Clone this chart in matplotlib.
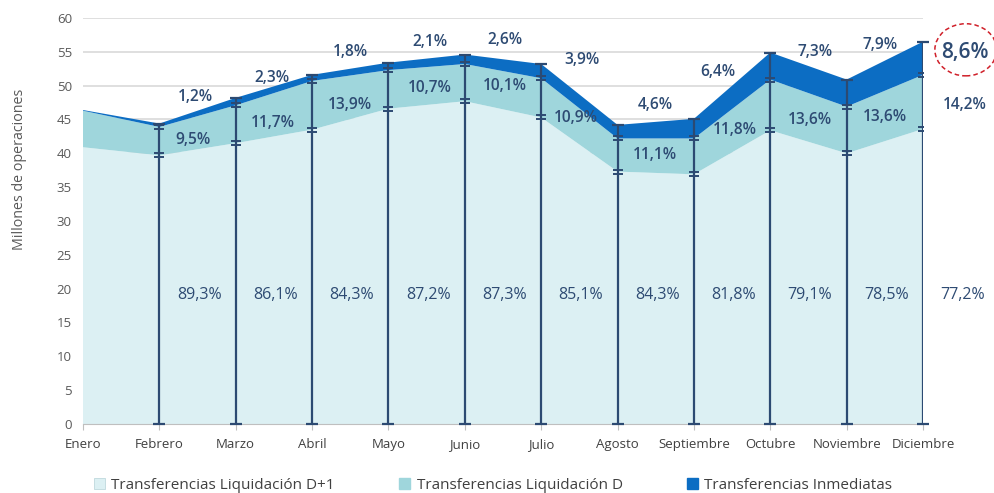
import matplotlib.pyplot as plt
from matplotlib.patches import Patch, Ellipse
from matplotlib.path import Path

# months and values (millions of operations)
months = ["Enero", "Febrero", "Marzo", "Abril", "Mayo", "Junio", "Julio",
          "Agosto", "Septiembre", "Octubre", "Noviembre", "Diciembre"]
liq_d1 = [40.9, 39.7, 41.5, 43.5, 46.6, 47.7, 45.3, 37.3, 36.9, 43.4, 40.0, 43.6]
liq_d = [5.4, 4.2, 5.6, 7.2, 5.7, 5.5, 5.8, 4.9, 5.3, 7.5, 6.9, 8.0]
inmed = [0.1, 0.5, 1.1, 0.9, 1.1, 1.4, 2.1, 2.0, 2.9, 4.0, 4.0, 4.9]

# share labels (Febrero .. Diciembre)
pct_d1 = ["89,3%", "86,1%", "84,3%", "87,2%", "87,3%", "85,1%", "84,3%", "81,8%", "79,1%", "78,5%", "77,2%"]
pct_d = ["9,5%", "11,7%", "13,9%", "10,7%", "10,1%", "10,9%", "11,1%", "11,8%", "13,6%", "13,6%", "14,2%"]
pct_inm = ["1,2%", "2,3%", "1,8%", "2,1%", "2,6%", "3,9%", "4,6%", "6,4%", "7,3%", "7,9%", "8,6%"]

# label placement (layout only)
inm_lbl_x = [1.47, 2.48, 3.5, 4.54, 5.53, 6.53, 7.49, 8.31, 9.59, 10.44, 11.55]
inm_lbl_y = [48.3, 51.1, 55.0, 56.4, 56.7, 53.8, 47.1, 52.0, 55.0, 56.0, 54.9]
d_lbl_x = [1.44, 2.48, 3.5, 4.54, 5.53, 6.46, 7.49, 8.54, 9.52, 10.5, 11.55]
d_lbl_y = [42.0, 44.5, 47.1, 49.6, 50.0, 45.2, 39.7, 43.4, 44.9, 45.3, 47.1]

c_d1 = "#DCF0F3"
c_d = "#9FD6DC"
c_inm = "#0C6DC3"
c_line = "#2C4A72"
c_txt = "#2E4B73"

plt.rcParams['font.family'] = ['Open Sans', 'DejaVu Sans']

fig = plt.figure(figsize=(9.94, 4.93), dpi=100)
ax = fig.add_axes([0.0835, 0.14, 0.8451, 0.8235])

x = list(range(len(months)))
ax.stackplot(x, liq_d1, liq_d, inmed, colors=[c_d1, c_d, c_inm], lw=0, zorder=2)

# vertical bars with caps
dbl = Path([(-1, 0.35), (1, 0.35), (-1, -0.35), (1, -0.35)],
           [Path.MOVETO, Path.LINETO, Path.MOVETO, Path.LINETO])
for i in range(1, len(months)):
    b1 = liq_d1[i]
    b2 = liq_d1[i] + liq_d[i]
    top = b2 + inmed[i]
    ax.vlines(i, 0, top, color=c_line, lw=1.6, zorder=3)
    ax.plot([i, i], [0, top], ls="none", marker="_", ms=8, mew=1.6, color=c_line, zorder=4, clip_on=False)
    ax.plot([i, i], [b1, b2], ls="none", marker=dbl, ms=7.5, mew=1.4, color=c_line, zorder=4)

# labels
for k in range(len(pct_d1)):
    ax.text(k + 1.52, 19.0, pct_d1[k], ha="center", va="center", fontsize=11.5, color=c_txt, zorder=5)
    ax.text(d_lbl_x[k], d_lbl_y[k], pct_d[k], ha="center", va="center", fontsize=11.2,
            fontweight="semibold", color=c_txt, zorder=5)
    big = k == len(pct_inm) - 1
    ax.text(inm_lbl_x[k], inm_lbl_y[k], pct_inm[k], ha="center", va="center",
            fontsize=15 if big else 11.2, fontweight="semibold", color=c_txt, zorder=5, clip_on=False)

ax.add_patch(Ellipse((11.56, 55.3), 0.81, 7.7, fill=False, ec="#D0202A", ls=(0, (3, 2)),
                     lw=1.1, clip_on=False, zorder=6))

ax.set_xlim(0, 11)
ax.set_ylim(0, 60)
ax.set_yticks(range(0, 61, 5))
ax.set_xticks(x)
ax.set_xticklabels(months, fontsize=9.5, color="#404040")
ax.tick_params(axis="y", length=0, labelsize=9.5, labelcolor="#595959", pad=8)
ax.tick_params(axis="x", length=4, color="#BFBFBF", pad=6)
ax.grid(axis="y", color="#D9D9D9", lw=1.2, zorder=0)
ax.set_axisbelow(True)
for s in ["top", "right", "left"]:
    ax.spines[s].set_visible(False)
ax.spines["bottom"].set_color("#BFBFBF")
ax.set_ylabel("Millones de operaciones", fontsize=10.3, color="#595959")
ax.yaxis.set_label_coords(-0.067, 0.628)

handles = [Patch(facecolor=c_d1, edgecolor="#BFD9DD", lw=0.6),
           Patch(facecolor=c_d, edgecolor=c_d),
           Patch(facecolor=c_inm, edgecolor=c_inm)]
labels = ["Transferencias Liquidación D+1", "Transferencias Liquidación D", "Transferencias Inmediatas"]
fig.legend(handles, labels, loc="center", bbox_to_anchor=(0.496, 0.015), ncol=3, frameon=False,
           fontsize=11, handlelength=0.75, handleheight=0.75, handletextpad=0.4, columnspacing=4.2,
           labelcolor="#404040")

fig.savefig("out.png", dpi=100)
